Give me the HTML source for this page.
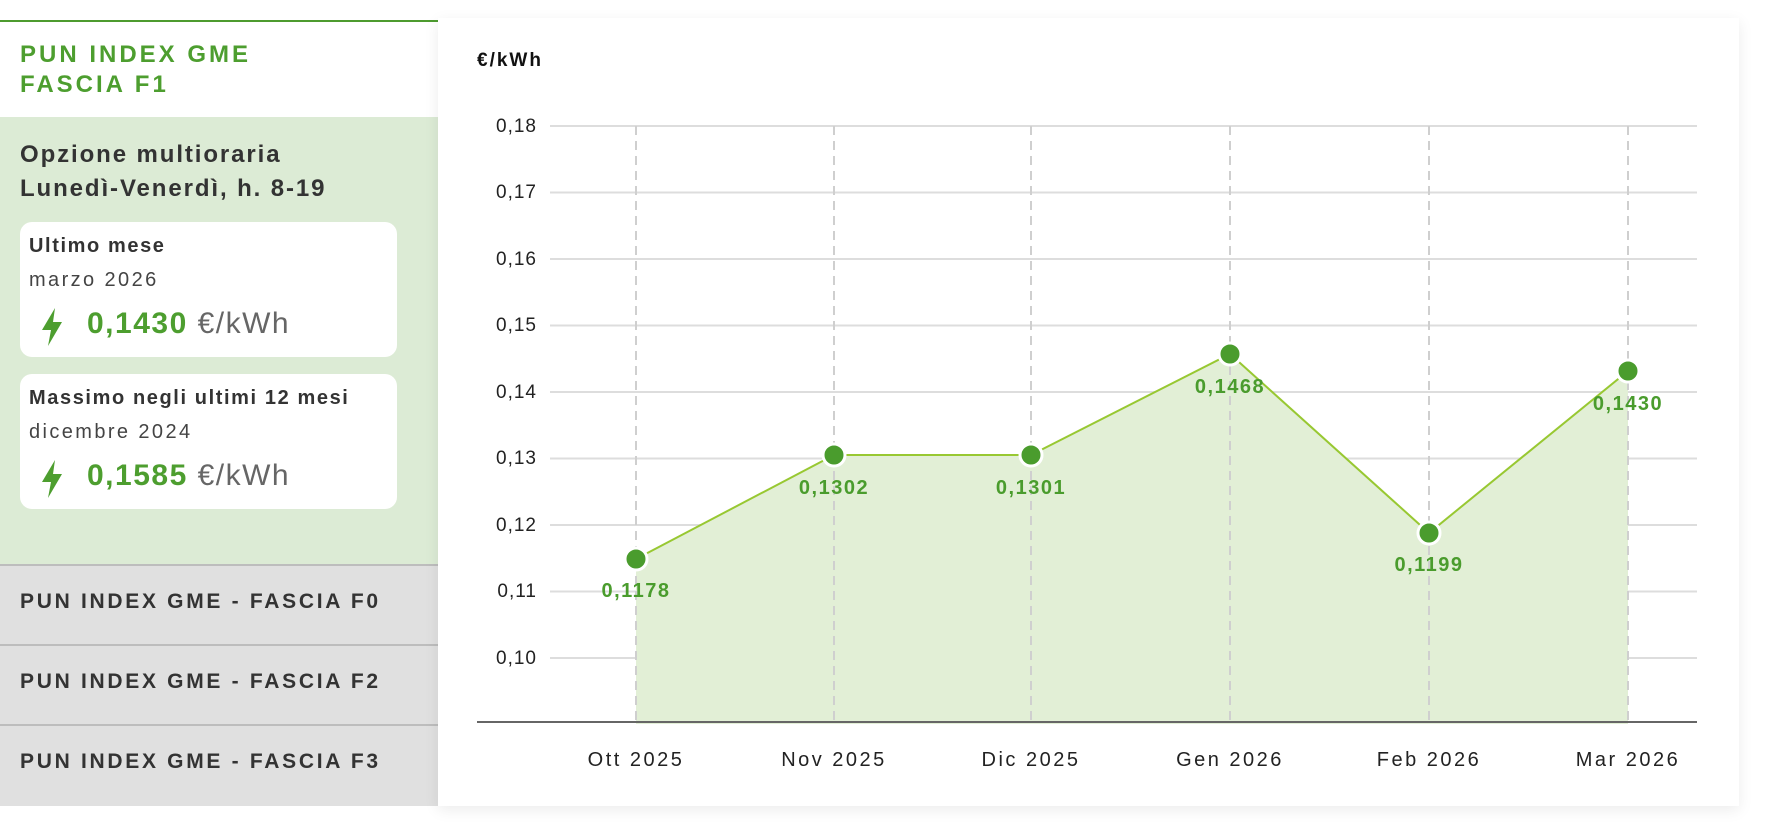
<!DOCTYPE html>
<html><head><meta charset="utf-8"><style>
*{margin:0;padding:0;box-sizing:border-box}
body{width:1766px;height:838px;background:#fff;font-family:"Liberation Sans",sans-serif;position:relative;overflow:hidden}
.abs{position:absolute}
.left{left:0;top:20px;width:438px;border-top:2px solid #4d9b2f}
.title{left:20px;top:40px;color:#4d9e2f;font-weight:bold;font-size:24px;line-height:30px;letter-spacing:3px}
.green{left:0;top:117px;width:438px;height:448px;background:#dcebd5}
.opt{left:20px;top:138px;color:#333;font-weight:bold;font-size:24px;line-height:34px;letter-spacing:1.9px}
.card{left:20px;width:377px;height:135px;background:#fff;border-radius:12px}
.card .h{position:absolute;left:9px;top:13px;font-weight:bold;font-size:20px;color:#333;letter-spacing:1.6px}
.card .s{position:absolute;left:9px;top:47px;font-size:20px;color:#444;letter-spacing:2.4px}
.card .v{position:absolute;left:67px;top:85px;font-size:30px;color:#4d9e2f;font-weight:bold;letter-spacing:1.5px}
.card .v span{font-weight:normal;color:#666}
.card svg{position:absolute;left:20px;top:86px}
.row{left:0;width:438px;height:80px;background:#e0e0e0;border-top:2px solid #bdbdbd;color:#333;font-weight:bold;font-size:21px;padding:24px 0 0 20px;letter-spacing:2.7px}
.chart{left:438px;top:18px;width:1301px;height:788px;background:#fff;box-shadow:0 4px 14px rgba(0,0,0,.08)}
</style></head><body>
<div class="abs left"></div>
<div class="abs title">PUN INDEX GME<br>FASCIA F1</div>
<div class="abs green"></div>
<div class="abs opt">Opzione multioraria<br>Lunedì-Venerdì, h. 8-19</div>
<div class="abs card" style="top:222px"><div class="h">Ultimo mese</div><div class="s">marzo 2026</div>
<svg width="24" height="38" viewBox="0 0 24 38"><path d="M15 0 L2 22 H11 L8 38 L22 14 H13 Z" fill="#4d9e2f"/></svg>
<div class="v">0,1430 <span>€/kWh</span></div></div>
<div class="abs card" style="top:374px"><div class="h">Massimo negli ultimi 12 mesi</div><div class="s">dicembre 2024</div>
<svg width="24" height="38" viewBox="0 0 24 38"><path d="M15 0 L2 22 H11 L8 38 L22 14 H13 Z" fill="#4d9e2f"/></svg>
<div class="v">0,1585 <span>€/kWh</span></div></div>
<div class="abs row" style="top:564px">PUN INDEX GME - FASCIA F0</div>
<div class="abs row" style="top:644px">PUN INDEX GME - FASCIA F2</div>
<div class="abs row" style="top:724px;height:82px">PUN INDEX GME - FASCIA F3</div>
<div class="abs chart"></div>
<svg class="abs" style="left:0;top:0" width="1766" height="838" font-family="Liberation Sans, sans-serif">
<text x="477" y="66" font-size="19" font-weight="bold" fill="#111" letter-spacing="2">€/kWh</text>
<g stroke="#ddd" stroke-width="2">
<line x1="550" x2="1697" y1="126" y2="126"/><line x1="550" x2="1697" y1="192.5" y2="192.5"/><line x1="550" x2="1697" y1="259" y2="259"/><line x1="550" x2="1697" y1="325.5" y2="325.5"/><line x1="550" x2="1697" y1="392" y2="392"/><line x1="550" x2="1697" y1="458.5" y2="458.5"/><line x1="550" x2="1697" y1="525" y2="525"/><line x1="550" x2="1697" y1="591.5" y2="591.5"/><line x1="550" x2="1697" y1="658" y2="658"/>
</g>
<g font-size="19" fill="#222" text-anchor="end" letter-spacing="1">
<text x="537" y="132">0,18</text><text x="537" y="198">0,17</text><text x="537" y="265">0,16</text><text x="537" y="331">0,15</text><text x="537" y="398">0,14</text><text x="537" y="464">0,13</text><text x="537" y="531">0,12</text><text x="537" y="597">0,11</text><text x="537" y="664">0,10</text>
</g>
<polygon points="636,559 834,455 1031,455 1230,354 1429,533 1628,371 1628,724 636,724" fill="#e2efd6"/>
<g stroke="#cfcfcf" stroke-width="2" stroke-dasharray="9,6">
<line x1="636" x2="636" y1="126" y2="724"/><line x1="834" x2="834" y1="126" y2="724"/><line x1="1031" x2="1031" y1="126" y2="724"/><line x1="1230" x2="1230" y1="126" y2="724"/><line x1="1429" x2="1429" y1="126" y2="724"/><line x1="1628" x2="1628" y1="126" y2="724"/>
</g>
<line x1="477" x2="1697" y1="722" y2="722" stroke="#666" stroke-width="2"/>
<polyline points="636,559 834,455 1031,455 1230,354 1429,533 1628,371" fill="none" stroke="#98c832" stroke-width="2"/>
<g fill="#4a9c2d" stroke="#fff" stroke-width="3">
<circle cx="636" cy="559" r="11"/><circle cx="834" cy="455" r="11"/><circle cx="1031" cy="455" r="11"/><circle cx="1230" cy="354" r="11"/><circle cx="1429" cy="533" r="11"/><circle cx="1628" cy="371" r="11"/>
</g>
<g font-size="20" font-weight="bold" fill="#4a9c2d" text-anchor="middle" letter-spacing="1.5">
<text x="636" y="597">0,1178</text><text x="834" y="494">0,1302</text><text x="1031" y="494">0,1301</text><text x="1230" y="393">0,1468</text><text x="1429" y="571">0,1199</text><text x="1628" y="410">0,1430</text>
</g>
<g font-size="20" fill="#222" text-anchor="middle" letter-spacing="2.5">
<text x="636" y="766">Ott 2025</text><text x="834" y="766">Nov 2025</text><text x="1031" y="766">Dic 2025</text><text x="1230" y="766">Gen 2026</text><text x="1429" y="766">Feb 2026</text><text x="1628" y="766">Mar 2026</text>
</g>
</svg>
</body></html>
